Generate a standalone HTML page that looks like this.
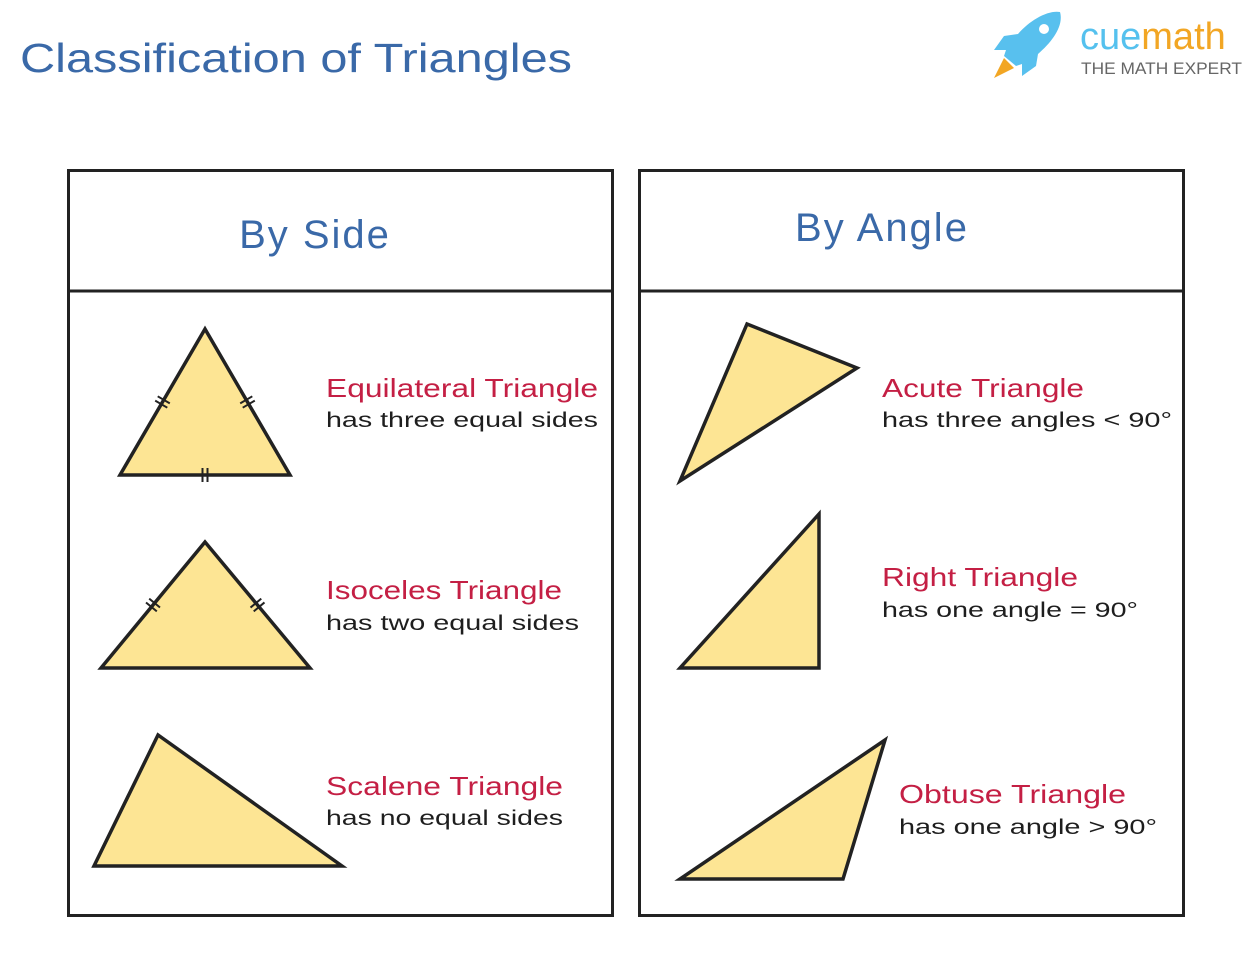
<!DOCTYPE html>
<html><head><meta charset="utf-8">
<style>
html,body{margin:0;padding:0;background:#fff;}
svg{display:block;}
text{font-family:"Liberation Sans",sans-serif;}
.red{fill:#c41f44;font-size:26px;}
.blk{fill:#1e1e1e;font-size:21px;}
.tri{fill:#fde594;stroke:#222;stroke-width:3.5;stroke-linejoin:miter;}
</style></head>
<body>
<svg id="s" width="1251" height="964" viewBox="0 0 1251 964">
<text x="20" y="72" font-size="41" fill="#3a69a8" textLength="552" lengthAdjust="spacingAndGlyphs">Classification of Triangles</text>

<g>
  <path d="M1060 12 C1048 10 1030 20 1018 34 L1004 36 L994 50 L1006 50 L1004 56 L1016 66 L1022 64 L1022 76 L1036 66 L1038 54 C1052 42 1064 26 1060 12 Z" fill="#58c0ee"/>
  <circle cx="1044" cy="29" r="5" fill="#fff"/>
  <path d="M1004 58 L994 78 L1014 68 Z" fill="#f2a624"/>
  <text x="1080" y="49" font-size="38" fill="#55c1ee">cue<tspan fill="#f2a624">math</tspan></text>
  <text x="1081" y="74" font-size="17" fill="#666" textLength="161" lengthAdjust="spacingAndGlyphs">THE MATH EXPERT</text>
</g>

<g>
  <rect x="68.5" y="170.5" width="544" height="745" fill="none" stroke="#222" stroke-width="3"/>
  <line x1="68" y1="291" x2="612" y2="291" stroke="#222" stroke-width="3"/>
  <text x="315" y="248" font-size="40" fill="#3a69a8" text-anchor="middle" letter-spacing="2">By Side</text>
  <polygon class="tri" points="205,329 120,475 290,475"/>
  <polygon class="tri" points="205,542 101,668 310,668"/>
  <polygon class="tri" points="158,735 94,866 342,866"/>
  <g id="ticks" stroke="#222" stroke-width="2"></g>
  <text class="red" x="326" y="397" textLength="272" lengthAdjust="spacingAndGlyphs">Equilateral Triangle</text>
  <text class="blk" x="326" y="427" textLength="272" lengthAdjust="spacingAndGlyphs">has three equal sides</text>
  <text class="red" x="326" y="599" textLength="236" lengthAdjust="spacingAndGlyphs">Isoceles Triangle</text>
  <text class="blk" x="326" y="630" textLength="253" lengthAdjust="spacingAndGlyphs">has two equal sides</text>
  <text class="red" x="326" y="795" textLength="237" lengthAdjust="spacingAndGlyphs">Scalene Triangle</text>
  <text class="blk" x="326" y="825" textLength="237" lengthAdjust="spacingAndGlyphs">has no equal sides</text>
</g>

<g>
  <rect x="639.5" y="170.5" width="544" height="745" fill="none" stroke="#222" stroke-width="3"/>
  <line x1="639" y1="291" x2="1183" y2="291" stroke="#222" stroke-width="3"/>
  <text x="882" y="241" font-size="40" fill="#3a69a8" text-anchor="middle" letter-spacing="2">By Angle</text>
  <polygon class="tri" points="747,324 857,368 680,481"/>
  <polygon class="tri" points="819,514 819,668 680,668"/>
  <polygon class="tri" points="885,740 843,879 680,879"/>
  <text class="red" x="882" y="397" textLength="202" lengthAdjust="spacingAndGlyphs">Acute Triangle</text>
  <text class="blk" x="882" y="427" textLength="290" lengthAdjust="spacingAndGlyphs">has three angles &lt; 90°</text>
  <text class="red" x="882" y="586" textLength="196" lengthAdjust="spacingAndGlyphs">Right Triangle</text>
  <text class="blk" x="882" y="617" textLength="256" lengthAdjust="spacingAndGlyphs">has one angle =  90°</text>
  <text class="red" x="899" y="803" textLength="227" lengthAdjust="spacingAndGlyphs">Obtuse Triangle</text>
  <text class="blk" x="899" y="834" textLength="258" lengthAdjust="spacingAndGlyphs">has one angle &gt; 90°</text>
</g>
</svg>
<script>
const tickSides = [
  [[205,329],[120,475]],
  [[205,329],[290,475]],
  [[120,475],[290,475]],
  [[205,542],[101,668]],
  [[205,542],[310,668]]
];
const g = document.getElementById('ticks');
const NS = 'http://www.w3.org/2000/svg';
tickSides.forEach(function(s){
  const a=s[0], b=s[1];
  const mx=(a[0]+b[0])/2, my=(a[1]+b[1])/2;
  const dx=b[0]-a[0], dy=b[1]-a[1], L=Math.hypot(dx,dy);
  const ux=dx/L, uy=dy/L, px=-uy, py=ux;
  [-2.5,2.5].forEach(function(o){
    const cx=mx+ux*o, cy=my+uy*o;
    const l=document.createElementNS(NS,'line');
    l.setAttribute('x1',cx-px*7); l.setAttribute('y1',cy-py*7);
    l.setAttribute('x2',cx+px*7); l.setAttribute('y2',cy+py*7);
    
    
    g.appendChild(l);
  });
});
</script>
</body></html>
